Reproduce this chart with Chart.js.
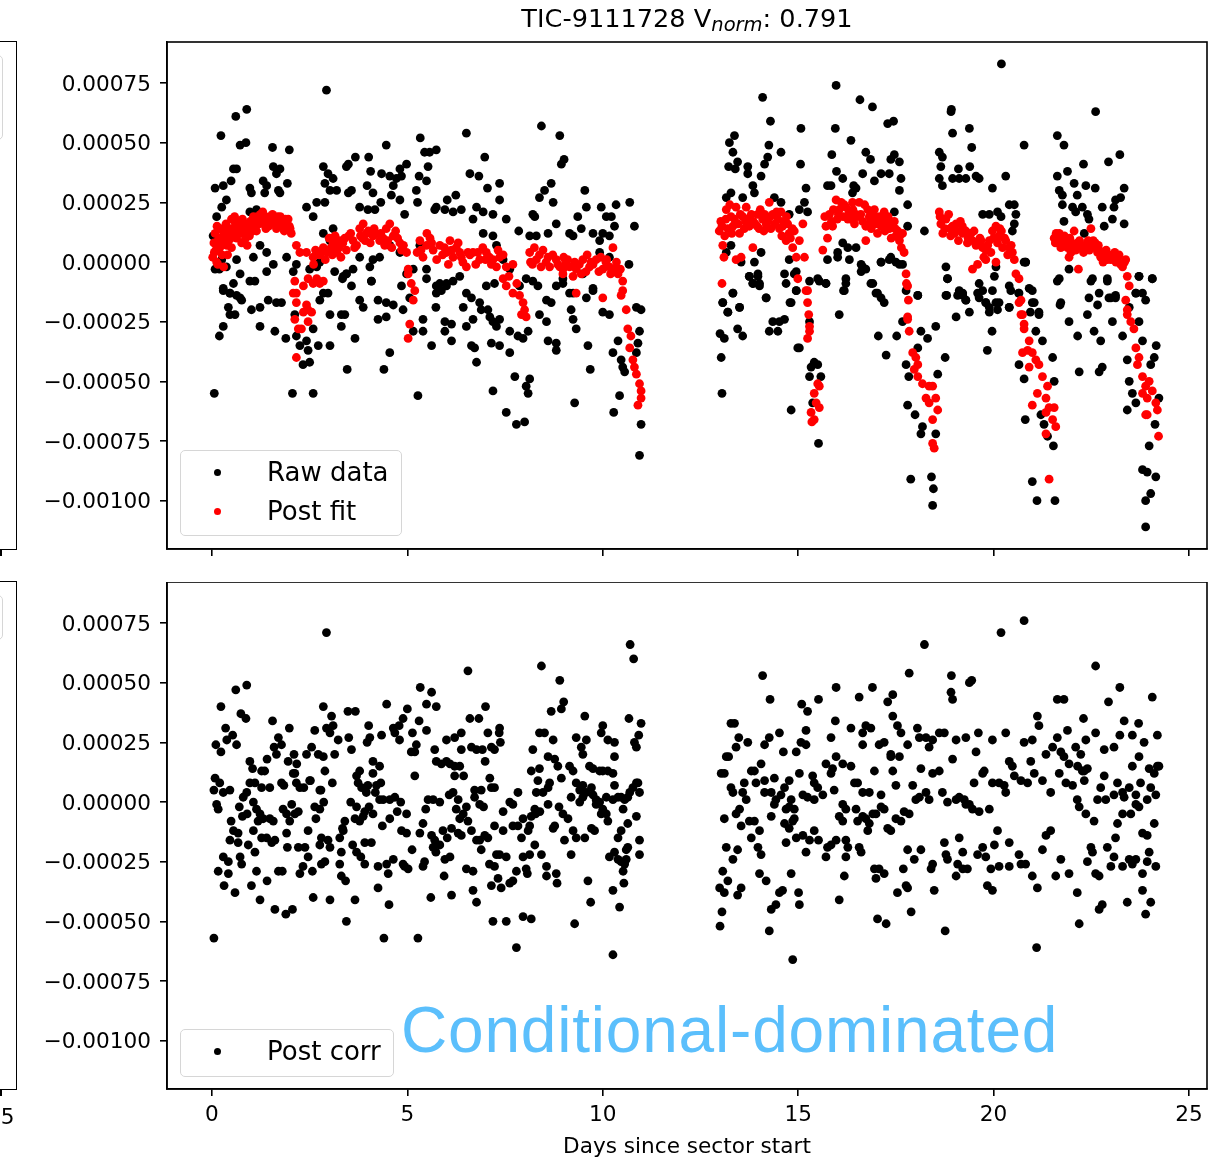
<!DOCTYPE html>
<html>
<head>
<meta charset="utf-8">
<script src="https://cdn.jsdelivr.net/npm/chart.js@4.4.1/dist/chart.umd.min.js"></script>
<style>
  body { margin: 0; background: #fff; }
  #fig { position: relative; width: 1229px; height: 1164px; overflow: hidden; font-family: "DejaVu Sans", sans-serif; color: #000; }
  #fig canvas { position: absolute; left: 0; }
  #topChart { top: 0; }
  #bottomChart { top: 582px; }
  .title { position: absolute; left: 167px; width: 1040px; top: 6px; text-align: center; font-size: 25.6px; line-height: 25px; white-space: nowrap; }
  .title .sub { font-style: italic; font-size: 19.5px; position: relative; top: 4px; }
  .legend { position: absolute; border: 1.5px solid #d6d6d6; border-radius: 5px; background: rgba(255,255,255,0.8); box-sizing: border-box; }
  .item { position: absolute; left: 267px; font-size: 26px; line-height: 26px; white-space: nowrap; }
  .dot { position: absolute; left: 213.5px; width: 7px; height: 7px; border-radius: 50%; }
  .note { position: absolute; left: 401px; top: 998px; font-family: "Liberation Sans", Arial, sans-serif; font-size: 64px; line-height: 64px; letter-spacing: 0.8px; color: #5bbffc; white-space: nowrap; }
  .frag { position: absolute; border: 1.6px solid #000; box-sizing: border-box; }
  .fragLegend { position: absolute; border: 1.5px solid #d6d6d6; border-radius: 5px; box-sizing: border-box; }
  .tick { position: absolute; left: 0; width: 1.6px; height: 7px; background: #000; }
  .fragLabel { position: absolute; left: -13px; top: 1106px; font-size: 21.6px; line-height: 21px; }
</style>
</head>
<body>
<div id="fig">
  <canvas id="topChart" width="1229" height="582"></canvas>
  <canvas id="bottomChart" width="1229" height="582"></canvas>

  <!-- cropped neighbour panels on the left edge -->
  <div class="frag" style="left:-20px; top:41px; width:37px; height:509px;"></div>
  <div class="fragLegend" style="left:-100px; top:55px; width:103px; height:85px;"></div>
  <div class="tick" style="top:549px;"></div>
  <div class="frag" style="left:-20px; top:581px; width:37px; height:509px;"></div>
  <div class="fragLegend" style="left:-100px; top:595px; width:103px; height:45px;"></div>
  <div class="tick" style="top:1089px;"></div>
  <div class="fragLabel">25</div>

  <div class="title">TIC-9111728 V<span class="sub">norm</span>: 0.791</div>

  <div class="legend" style="left:180px; top:450px; width:222px; height:86px;"></div>
  <div class="dot" style="top:468.5px; background:#000;"></div>
  <div class="item" style="top:459px;">Raw data</div>
  <div class="dot" style="top:507.5px; background:#ff0000;"></div>
  <div class="item" style="top:498px;">Post fit</div>

  <div class="legend" style="left:180px; top:1029px; width:214px; height:48px;"></div>
  <div class="dot" style="top:1047.5px; background:#000;"></div>
  <div class="item" style="top:1038px;">Post corr</div>

  <div class="note">Conditional-dominated</div>
</div>

<script>
// x: days since sector start, y: flux in units of 1e-5
const UNIT = 1e-5;
const xTicks = [0, 5, 10, 15, 20, 25];
const yTicks = [-100, -75, -50, -25, 0, 25, 50, 75];

const rawData = [
  [0.23,53],[0.61,61],[0.89,64],[0.72,49],[0.87,50],[0.55,39],[0.63,39],[0.08,31],[0.29,32],[0.49,34],[0.37,26],[0.25,23],[0.12,19],[0.03,11],[0.97,31],[1.01,29],[1.31,34],[1.4,32],[1.35,29],[1.55,48],[1.98,47],[1.57,40],[1.74,39],[1.65,37],[1.7,30],[1.74,29],[1.93,33],[0.97,21],[1.14,22],
  [2.93,72],[2.85,40],[2.97,37],[3.1,35],[2.89,33],[3.02,30],[3.19,30],[2.42,23],[2.68,25],[2.89,25],[2.59,19],[3.67,44],[3.49,41],[3.44,40],[4.01,44],[3.49,29],[3.57,30],[3.78,23],[3.99,22],[4.17,22],[4.06,38],[3.97,32],[4.12,29],[4.34,37],[4.46,49],[4.55,36],[4.72,35],[4.85,36],[4.81,39],[4.98,41],[4.64,32],[4.59,28],[4.81,26],[4.32,25],
  [5.33,52],[5.44,46],[5.57,46],[5.74,47],[5.53,40],[5.3,36],[5.49,34],[5.23,30],[5.26,25],[4.93,20],[5.74,23],[5.7,22],[6.02,26],[6.24,28],[5.96,22],[6.17,21],[6.38,22],[6.51,54],[6.6,37],[6.83,36],[6.98,44],[7.05,31],[6.68,18],[6.77,23],[6.94,21],[7.19,20],[7.36,33],[7.36,26],[7.53,18],[7.85,13],[8.21,20],[8.26,19],[8.43,57],[8.38,27],[8.51,30],[8.68,33],[8.73,25],[8.13,11],[8.3,11],[8.6,12],[8.81,16],[8.9,53],[8.94,41],[9.01,43],[9.54,30],[9.36,19],[9.58,23],[9.45,14],[9.24,11],[9.15,12],[9.96,23],[10.09,19],[10.22,19],[10.34,24],[9.75,12],[10.0,12],[10.17,11],[10.3,15],[9.92,9],[10.69,25],[10.81,15],[10.67,-1],
  [0.08,-3],[0.25,1],[0.37,-2],[0.63,1],[0.72,-5],[0.29,-11],[0.46,-13],[0.63,-14],[1.06,2],[1.23,7],[1.4,4],[1.57,-1],[1.91,2],[2.08,-4],[2.16,-1],[2.5,-3],[2.68,-2],[2.76,0],[3.1,14],[3.02,9],[2.85,12],[3.34,-7],[3.44,-5],[3.61,-3],[3.78,2],[4.04,-2],[4.12,1],[4.29,2],[4.55,7],[4.08,-8],[4.81,4],[4.98,-5],[5.15,-3],[5.32,7],[5.49,-3],[5.83,-9],[6.0,-10],[6.17,-8],[6.34,-6],[6.51,-13],[6.94,12],[7.19,11],[7.28,7],[7.45,1],[7.62,-3],[7.87,-10],[8.04,-7],[8.81,-10],[8.98,-7],[9.24,-13],[9.49,-5],[9.75,-12],[9.92,4],[10.17,2],
  [0.19,-3],[0.29,-12],[0.46,-13],[0.55,-9],[0.72,-15],[0.76,-16],[0.42,-19],[0.46,-22],[0.59,-22],[0.29,-27],[0.19,-31],[0.06,-55],[0.97,-8],[1.1,-8],[1.01,-20],[1.23,-19],[1.23,-27],[1.4,-4],[1.44,-16],[1.65,-17],[1.78,-17],[1.61,-29],[1.89,-32],[2.06,-55],[2.12,-22],[2.16,-31],[2.25,-35],[2.42,-33],[2.46,-37],[2.33,-43],[2.5,-42],[2.59,-55],[2.59,-28],[2.72,-35],[3.02,-35],[2.76,-16],[2.85,-13],[2.97,-13],[3.14,-4],[3.36,-6],[3.44,-5],[3.57,-10],[3.31,-22],[3.4,-22],[3.31,-27],[3.02,-22],[3.66,-32],[3.46,-45],[3.78,-16],[3.87,-19],[4.08,-8],[4.25,-16],[4.46,-17],[4.64,-18],[4.46,-23],[4.25,-24],[4.55,-38],[4.4,-45],[4.89,-20],[4.85,-10],[5.06,-15],[5.15,-29],[5.4,-24],[5.4,-29],[5.62,-35],[5.27,-56],[5.49,-7],[5.74,-10],[5.74,-13],[5.87,-12],[6.0,-9],[5.73,-19],[5.96,-25],[6.13,-26],[5.96,-29],[6.13,-33],[6.43,-19],[6.64,-15],[6.85,-17],[6.89,-20],[7.06,-20],[6.51,-27],[6.68,-24],[6.64,-35],[6.72,-36],[6.77,-42],[7.11,-23],[7.19,-25],[7.28,-27],[7.36,-24],[7.23,-9],[7.02,-10],[7.15,-34],[7.36,-35],[7.62,-29],[7.83,-31],[7.96,-32],[7.62,-38],[7.19,-54],[7.53,-63],[7.79,-68],[8.0,-67],[7.75,-48],[8.13,-49],[8.04,-52],[8.09,-55],[8.09,-29],[8.21,-8],[8.34,-10],[8.56,-16],[8.38,-22],[8.56,-25],[8.6,-33],[8.81,-34],[8.81,-37],[8.68,-17],[9.28,-59],[9.19,-20],[9.24,-24],[9.32,-28],[8.98,-9],[9.15,-13],[9.58,-15],[9.62,-35],[9.68,-45],[9.75,-11],[10.0,-21],[10.17,-22],[10.26,-38],[10.47,-41],[10.51,-44],[10.39,-33],[10.56,-46],[10.28,-63],[10.43,-56],[10.86,-19],[10.98,-20],[10.94,-29],[10.9,-34],[10.86,-38],[10.98,-68],[10.94,-81],
  [14.09,69],[13.37,53],[13.24,50],[13.33,46],[13.45,42],[13.22,40],[13.39,39],[13.71,40],[13.71,37],[13.84,32],[14.05,36],[14.29,59],[14.25,49],[14.22,44],[14.14,41],[14.56,46],[14.39,27],[14.56,25],[13.88,29],[13.58,27],[13.16,27],[13.28,29],[15.07,56],[15.06,41],[15.2,31],[15.16,25],[15.24,21],[14.77,20],[15.03,22],[15.97,74],[15.95,56],[16.35,51],[15.86,45],[15.98,38],[16.14,35],[15.75,32],[15.84,32],[16.58,68],[16.9,65],[16.73,46],[16.85,43],[16.65,37],[16.95,34],[17.12,37],[17.33,37],[17.37,43],[17.46,45],[17.59,42],[17.63,35],[16.42,32],[16.48,31],[16.39,29],[17.29,58],[17.44,59],[17.59,30],[17.8,24],[17.46,21],[18.23,13],[17.8,15],[18.92,64],[18.91,63],[18.95,54],[19.38,56],[19.44,48],[18.61,46],[18.69,44],[18.65,40],[19.1,39],[19.39,40],[18.61,35],[18.69,32],[18.95,35],[19.12,35],[19.29,35],[19.55,36],[19.63,35],[19.97,31],[20.31,36],[20.78,49],[20.2,83],[20.4,24],[20.53,24],[20.57,20],[20.53,16],[20.48,13],[20.78,0],[19.72,20],[19.89,20],[20.1,21],[20.19,19],[21.63,53],[21.8,49],[22.61,63],[21.63,36],[21.89,38],[21.68,30],[21.76,28],[22.06,33],[22.14,28],[22.36,32],[22.6,31],[22.3,41],[22.94,42],[23.23,45],[23.34,31],[23.25,27],[23.12,26],[23.08,23],[22.78,23],[21.76,24],[22.02,23],[22.1,21],[22.27,23],[22.4,20],[22.44,18],[22.32,12],[21.8,17],[22.83,15],[23.04,18],[23.34,16],[24.06,-7],[23.72,-6],[23.64,-13],[23.89,-16],[23.47,-19],
  [13.07,-17],[13.2,-21],[13.5,-19],[13.33,-13],[13.16,4],[13.28,7],[13.54,0],[13.88,0],[13.97,-5],[13.75,-6],[13.84,-9],[14.01,-10],[14.05,4],[14.18,-15],[14.65,-5],[14.69,-9],[14.82,-17],[14.9,-5],[14.95,-12],[14.77,1],[15.29,-8],[15.5,-7],[15.71,-9],[15.75,1],[16.01,4],[16.14,8],[16.27,6],[16.31,1],[16.22,-7],[16.18,-12],[16.48,6],[16.65,-2],[16.73,-3],[16.91,-9],[16.99,-13],[17.12,-15],[17.12,0],[17.33,1],[17.5,0],[17.67,-1],[18.06,-14],[18.78,-2],[18.82,-7],[18.8,-14],[19.12,-12],[19.21,-14],[19.29,-16],[19.59,-13],[19.63,-9],[19.72,-12],[19.8,-17],[19.89,-19],[19.97,-12],[20.02,-6],[20.06,-2],[20.14,-17],[20.4,-19],[20.44,-12],[20.65,-13],[20.82,0],[20.99,-17],[21.16,-21],[21.68,-7],[21.72,-17],[21.93,-3],[22.44,-15],[22.53,-7],[22.7,-13],[22.91,-7],[22.95,-15],[23.12,-14],
  [13.03,-40],[13.05,-55],[13.07,-17],[13.2,-21],[13.33,-13],[13.5,-19],[13.0,-30],[13.11,-32],[13.45,-28],[13.58,-31],[13.75,-6],[13.97,-6],[13.84,-9],[14.01,-9],[14.18,-15],[14.26,-29],[14.35,-25],[14.52,-25],[14.65,-24],[14.48,-29],[14.82,-62],[14.79,-17],[14.95,-4],[14.95,-12],[15.03,-36],[14.99,-36],[15.29,-25],[15.33,-44],[15.41,-42],[15.5,-43],[15.58,-48],[15.29,-48],[15.37,-59],[15.52,-76],[15.54,-8],[15.71,-9],[16.01,2],[16.22,-9],[16.16,-12],[16.05,-22],[16.61,-1],[16.61,-4],[16.86,-9],[17.03,-13],[17.2,-17],[17.12,0],[17.37,2],[17.59,-1],[17.76,-12],[18.06,-14],[17.05,-31],[17.25,-39],[17.52,-31],[17.67,-25],[17.88,-91],[18.41,-90],[18.46,-95],[18.44,-102],[17.76,-43],[17.83,-48],[17.8,-60],[17.99,-64],[18.18,-69],[18.14,-72],[18.52,-72],[18.57,-47],[18.76,-40],[18.52,-27],[18.31,-32],[18.14,-29],[18.06,-36],[18.78,-14],[18.82,-7],[19.04,-23],[19.08,-14],[19.21,-13],[19.29,-16],[19.38,-21],[19.84,-37],[19.96,-29],[19.63,-15],[19.8,-17],[19.89,-21],[20.06,-17],[20.1,-20],[20.4,-10],[20.4,-19],[20.64,-13],[20.82,0],[20.91,-11],[20.99,-12],[21.04,-17],[20.81,-66],[20.65,-43],[20.78,-49],[20.99,-92],[21.11,-100],[21.57,-100],[21.53,-77],[21.38,-73],[21.29,-68],[21.21,-64],[21.51,-40],[21.55,-50],[21.25,-33],[21.08,-29],[21.16,-22],[20.94,-21],[21.63,-8],[21.7,-18],[21.93,-25],[22.15,-31],[22.19,-46],[22.4,-22],[22.49,-8],[22.57,-29],[22.66,-18],[22.7,-46],[22.78,-44],[22.74,-33],[22.91,-8],[23.0,-15],[23.12,-15],[23.04,-25],[23.3,-31],[23.42,-41],[23.47,-50],[23.42,-62],[23.55,-55],[23.64,-59],[23.72,-25],[23.72,-6],[23.81,-13],[23.64,-13],[23.81,-33],[24.11,-40],[24.16,-35],[24.06,-7],[24.02,-43],[24.23,-57],[24.13,-68],[23.98,-77],[23.81,-87],[23.93,-88],[24.15,-90],[24.02,-97],[23.89,-100],[23.89,-111]
];

const fitData = [
  [0.02,2],[0.05,8],[0.08,12],[0.1,5],[0.13,15],[0.15,-1],[0.18,10],[0.2,6],[0.23,14],[0.26,3],[0.3,11],[0.33,8],[0.36,16],[0.4,12],[0.43,9],[0.46,14],[0.5,18],[0.53,11],[0.56,13],[0.6,16],[0.63,10],[0.66,17],[0.7,14],[0.73,12],[0.76,8],[0.8,15],[0.84,12],[0.88,16],[0.92,14],[0.96,11],[1.0,15],[1.04,13],[1.08,17],[1.12,15],[1.16,19],[1.2,16],[1.24,20],[1.28,18],[1.32,16],[1.36,19],[1.4,17],[1.45,15],[1.5,18],[1.55,20],[1.6,16],[1.65,14],[1.7,17],[1.75,19],[1.8,15],[1.85,13],[1.9,16],[1.95,18],[2.0,14],[2.03,12],[0.5,6],[0.3,-2],[0.12,0],[0.9,7],[0.4,3],
  [0.06,4],[0.16,9],[0.28,13],[0.38,7],[0.48,10],[0.58,19],[0.68,12],[0.78,18],[0.86,10],[0.98,17],[1.06,19],[1.14,13],[1.22,17],[1.3,21],[1.38,14],[1.47,19],[1.58,17],[1.68,19],[1.78,16],[1.88,18],[1.98,15],
  [2.12,-8],[2.08,-13],[2.16,-17],[2.34,-10],[2.46,-7],[2.59,-9],[2.72,-8],[2.85,-8],[2.34,-21],[2.46,-20],[2.55,-21],[2.12,-24],[2.21,-28],[2.29,-28],[2.46,-25],[2.42,-18],[2.16,-40],[2.16,7],[2.25,4],[2.42,4],[2.68,-7],[2.76,-9],[2.16,-13],
  [2.59,2],[2.85,6],[3.1,8],[3.27,9],[3.44,5],[3.61,9],[3.78,14],[3.87,16],[3.95,12],[4.12,11],[4.29,9],[4.46,14],[4.55,16],[4.64,11],[4.81,8],[4.98,4],[5.02,-3],[2.65,5],[2.75,3],[2.95,4],[3.05,6],[3.2,4],[3.35,8],[3.5,11],[3.7,7],[3.85,10],[4.0,13],[4.05,8],[4.2,12],[4.38,10],[4.5,9],[4.7,13],[4.9,7],[3.15,11],[3.55,12],[4.6,6],[2.9,1],[3.0,10],[3.3,2],
  [2.6,-1],[2.8,4],[3.08,3],[3.25,6],[3.4,10],[3.65,6],[3.8,11],[3.92,9],[4.15,14],[4.32,12],[4.42,7],[4.75,10],[4.85,5],
  [5.02,-5],[5.1,-9],[5.15,-16],[5.06,-26],[5.02,-32],[5.19,-12],
  [5.32,9],[5.49,7],[5.66,5],[5.83,7],[6.0,4],[6.09,9],[6.17,2],[6.34,4],[6.51,-2],[6.68,4],[6.85,1],[7.02,4],[7.19,1],[7.36,2],[7.53,-2],[7.7,-1],[5.25,4],[5.4,2],[5.58,10],[5.75,1],[5.9,3],[6.05,-1],[6.25,6],[6.42,0],[6.6,3],[6.75,-1],[6.93,6],[7.1,2],[7.28,-2],[7.45,3],[5.5,12],[6.3,8],
  [5.35,5],[5.62,8],[5.95,6],[6.13,5],[6.38,2],[6.55,4],[6.8,4],[7.0,1],[7.15,-1],[7.32,5],
  [7.45,-7],[7.53,-10],[7.7,-13],[7.87,-14],[7.96,-17],[8.0,-20],[8.04,-23],[7.92,-22],[7.6,-6],[7.8,-9],
  [8.13,4],[8.3,1],[8.47,5],[8.64,-2],[8.81,1],[8.98,-5],[9.15,-2],[9.32,-3],[9.49,1],[9.66,-2],[9.83,1],[10.0,-3],[10.17,-2],[10.26,6],[10.39,-5],[10.51,-8],[9.32,-13],[8.98,-3],[9.24,-6],[8.2,-1],[8.38,3],[8.55,0],[8.72,3],[8.9,-2],[9.05,0],[9.4,-1],[9.57,-4],[9.75,-1],[9.9,-4],[10.08,0],[10.3,-3],[8.25,6],[9.0,2],[9.6,3],[10.1,1],
  [8.15,0],[8.42,-2],[8.6,2],[8.85,-1],[9.1,1],[9.28,0],[9.45,-5],[9.7,0],[9.95,2],[10.2,-5],[10.35,0],[10.45,-3],
  [10.0,-15],[10.51,-12],[10.47,-14],[10.64,-28],[10.69,-36],[10.77,-41],[10.81,-44],[10.86,-47],[10.94,-51],[10.98,-54],[10.9,-60],[10.98,-57],[10.6,-20],[10.72,-31],
  [12.98,13],[13.07,7],[13.16,22],[13.28,19],[13.33,15],[13.41,23],[13.5,12],[13.58,19],[13.67,23],[13.75,15],[13.84,6],[13.96,20],[14.09,18],[14.18,16],[14.26,25],[14.35,20],[14.48,18],[14.6,15],[14.69,9],[14.77,12],[14.86,6],[14.95,2],[15.03,9],[15.12,16],[15.16,2],[13.05,-9],[13.54,2],[13.41,1],[14.99,-7],[15.2,-12],[15.24,-17],[13.02,17],[13.12,11],[13.2,14],[13.25,24],[13.37,18],[13.46,16],[13.62,14],[13.7,18],[13.8,20],[13.9,16],[14.0,14],[14.03,22],[14.14,20],[14.22,17],[14.3,14],[14.4,16],[14.52,14],[14.56,21],[14.64,17],[14.73,16],[14.8,10],[14.9,13],[13.1,2],
  [13.05,15],[13.15,18],[13.3,12],[13.52,20],[13.65,17],[13.85,17],[13.95,15],[14.12,13],[14.28,19],[14.45,21],[14.58,11],[14.7,19],[14.85,14],
  [15.24,-12],[15.29,-27],[15.29,-29],[15.24,-32],[15.5,-51],[15.54,-52],[15.41,-55],[15.46,-59],[15.54,-61],[15.33,-63],[15.41,-66],[15.35,-67],[15.27,-22],
  [15.63,5],[15.71,15],[15.8,20],[15.97,26],[16.05,22],[16.22,23],[16.39,25],[16.48,20],[16.56,25],[16.73,15],[16.82,19],[16.91,20],[16.99,16],[17.08,19],[17.16,18],[17.25,16],[17.33,14],[17.42,15],[17.5,11],[17.59,9],[17.67,12],[16.73,9],[16.35,18],[15.88,15],[15.75,10],[15.9,22],[16.0,18],[16.1,25],[16.15,19],[16.3,21],[16.44,16],[16.6,20],[16.65,17],[16.78,22],[16.87,14],[16.95,22],[17.03,12],[17.2,21],[17.3,19],[17.38,10],[17.46,17],[17.55,13],[17.64,6],
  [15.68,19],[15.85,17],[16.03,20],[16.18,24],[16.27,18],[16.4,22],[16.52,19],[16.7,24],[16.85,17],[17.0,18],[17.12,15],[17.22,13],[17.36,17],[17.48,14],[17.6,11],
  [17.71,4],[17.76,-5],[17.8,-10],[17.77,-9],[17.8,-23],[17.8,-24],[17.84,-29],[17.93,-38],[18.01,-40],[18.06,-43],[17.97,-45],[18.06,-48],[18.18,-51],[18.35,-52],[18.44,-52],[18.52,-57],[18.27,-57],[18.35,-59],[18.57,-62],[18.44,-66],[18.44,-76],[18.48,-78],[17.82,-16],
  [18.61,21],[18.65,16],[18.78,18],[18.95,15],[19.04,16],[19.21,12],[19.29,13],[19.38,11],[19.46,9],[19.59,8],[19.72,6],[19.8,5],[19.89,9],[19.97,13],[20.06,15],[20.14,11],[20.23,6],[20.31,9],[20.4,6],[20.48,4],[20.53,1],[19.8,1],[19.46,-3],[20.06,0],[19.59,-1],[18.7,12],[18.85,20],[18.9,11],[19.0,12],[19.1,9],[19.15,17],[19.33,8],[19.5,13],[19.65,10],[19.75,2],[19.93,4],[20.1,8],[20.2,13],[20.36,3],
  [18.63,19],[18.75,14],[18.88,14],[19.05,13],[19.2,15],[19.35,10],[19.42,12],[19.55,7],[19.68,9],[19.85,7],[20.0,10],[20.16,14],[20.28,10],[20.45,7],
  [20.57,-5],[20.65,-7],[20.7,-16],[20.74,-22],[20.65,-17],[20.7,-22],[20.78,-26],[20.78,-28],[20.91,-33],[20.87,-37],[20.74,-38],[20.99,-38],[21.08,-41],[20.91,-44],[21.16,-43],[21.25,-48],[21.38,-52],[21.12,-55],[21.34,-57],[20.99,-60],[21.42,-61],[21.55,-61],[21.34,-63],[21.51,-66],[21.59,-69],[21.34,-72],[21.42,-91],
  [21.55,10],[21.63,9],[21.72,6],[21.81,11],[21.89,6],[21.98,4],[22.06,13],[22.15,8],[22.23,6],[22.36,7],[22.49,14],[22.53,6],[22.66,4],[22.74,2],[22.83,4],[22.91,1],[23.04,2],[23.13,0],[23.21,3],[23.3,-2],[23.38,1],[22.17,-3],[21.93,2],[21.6,12],[21.7,10],[21.77,8],[21.85,9],[22.0,8],[22.1,5],[22.3,4],[22.42,9],[22.6,8],[22.7,5],[22.8,0],[22.95,3],[23.1,4],[23.25,-1],
  [21.58,8],[21.68,12],[21.8,7],[21.95,10],[22.05,6],[22.2,9],[22.28,7],[22.45,5],[22.55,9],[22.68,7],[22.78,3],[22.88,5],[23.0,1],[23.18,2],[23.35,0],
  [23.42,-6],[23.47,-10],[23.38,-16],[23.42,-20],[23.42,-22],[23.51,-25],[23.59,-28],[23.64,-36],[23.72,-40],[23.68,-43],[23.81,-48],[23.98,-50],[23.89,-52],[24.06,-54],[23.81,-55],[23.93,-57],[24.15,-59],[24.19,-62],[23.93,-64],[23.89,-64],[24.22,-73]
];

const corrData = [
  [2.93,71],[6.55,55],[8.43,57],[8.9,51],[10.7,66],[10.79,60],[0.61,47],[0.89,49],[0.23,40],[0.74,37],[0.87,35],[1.55,34],[1.98,31],[0.35,31],[0.53,28],[0.38,26],[0.63,24],[0.1,24],[0.23,21],[2.85,40],[3.06,36],[2.93,31],[3.1,32],[3.02,29],[3.23,26],[3.48,38],[3.67,38],[3.5,27],[3.57,22],[4.01,32],[4.04,27],[3.97,25],[4.34,28],[4.47,41],[4.68,29],[4.79,32],[4.89,35],[5.0,39],[4.8,26],[4.64,31],[5.33,48],[5.62,46],[5.49,41],[5.74,40],[5.3,34],[5.49,30],[5.13,29],[5.23,24],[5.1,21],[5.19,21],[5.19,11],[2.63,30],[2.55,23],[2.72,20],[2.85,19],[1.7,27],[1.59,23],[1.78,24],[1.65,20],[1.95,17],[2.17,16],[2.1,20],[2.08,12],[0.97,17],[1.04,14],[1.41,18],[1.35,13],[1.27,13],[3.14,20],[2.42,20],[2.52,9],[2.89,13],[3.08,8],[2.79,5],
  [0.08,10],[0.2,8],[0.05,5],[0.29,4],[0.46,5],[0.12,-1],[0.16,-3],[0.97,8],[1.1,8],[1.27,6],[1.48,6],[0.89,4],[0.8,2],[0.7,-2],[0.78,-6],[0.9,-5],[1.06,0],[1.14,-3],[1.23,-5],[1.31,-7],[1.48,-7],[1.57,-8],[1.18,-8],[0.49,-8],[0.55,-12],[0.67,-13],[0.46,-16],[0.67,-17],[0.93,-18],[1.06,-12],[1.1,-21],[0.29,-23],[0.42,-25],[0.72,-23],[0.76,-26],[0.16,-29],[0.42,-30],[0.31,-35],[0.59,-38],[0.05,-57],[1.01,-35],[1.14,-29],[1.23,-41],[1.41,-33],[1.61,-45],[1.7,-29],[1.8,-29],[1.89,-47],[2.06,-45],[1.27,-15],[1.4,-15],[1.53,-17],[1.61,-16],[1.82,-3],[1.91,-5],[2.04,-1],[2.12,-5],[2.21,-4],[1.99,-8],[1.91,-13],[1.93,-19],[1.78,8],[1.84,7],[2.12,12],[2.16,8],[2.25,6],[2.35,6],[2.5,9],[2.76,5],
  [2.21,-19],[2.38,-19],[2.46,-23],[2.33,-27],[2.25,-30],[2.57,-29],[2.46,-12],[2.63,-2],[2.66,-7],[2.76,-3],[2.86,0],[2.8,-15],[2.97,-16],[3.02,-19],[2.76,-18],[2.59,-40],[3.02,-41],[2.8,-26],[2.89,-25],[3.27,-15],[3.36,-12],[3.4,-8],[3.34,-11],[3.31,-21],[3.27,-26],[3.31,-31],[3.42,-33],[3.44,-50],[3.66,-41],[3.55,0],[3.7,-2],[3.66,-7],[3.87,-6],[3.78,-8],[3.6,-18],[3.7,-21],[3.81,-23],[3.91,-26],[3.91,-17],[4.08,-17],[3.74,8],[3.78,13],[3.83,6],[3.7,11],[3.95,4],[3.99,7],[4.12,12],[4.21,7],[4.02,-2],[4.12,-5],[3.91,-4],[4.12,17],[4.29,15],[4.32,8],[4.18,4],[4.29,1],[4.38,1],[4.55,1],[4.68,2],[4.83,0],
  [4.25,-27],[4.25,-36],[4.47,-26],[4.51,-30],[4.53,-43],[4.4,-57],[4.64,-24],[4.93,-27],[5.02,-28],[4.89,-26],[4.36,-10],[4.55,-7],[4.74,-4],[4.98,-5],[4.85,-12],[4.98,-13],[5.12,-20],[5.27,-57],[5.4,-27],[5.44,-25],[5.6,-40],[5.32,-13],[5.4,-9],[5.47,-3],[5.53,1],[5.66,1],[5.83,0],[5.62,-14],[5.7,-16],[5.66,-19],[5.83,-18],[5.73,-21],[5.96,-24],[6.09,-23],[5.91,-12],[6.02,-15],[6.13,-11],[6.3,-13],[6.38,-14],[5.94,-31],[6.13,-39],[6.07,3],[6.17,4],[6.25,-3],[6.34,-7],[6.43,-5],[6.51,-2],[6.3,1],
  [5.7,22],[5.74,17],[5.87,16],[6.0,17],[6.09,16],[6.21,15],[6.34,15],[6.21,11],[6.44,11],[6.0,26],[6.21,27],[6.38,29],[6.38,22],[6.6,35],[6.83,35],[6.64,23],[6.77,22],[6.92,22],[7.0,40],[7.06,29],[6.99,17],[7.36,31],[7.35,29],[7.38,25],[7.15,23],[7.23,22],[6.72,5],[6.89,5],[6.72,2],[6.85,-1],[6.95,-2],[7.11,10],[7.15,6],[7.23,6],[6.55,-8],[6.64,-12],[6.77,-16],[6.85,-16],[6.98,-14],[7.06,-15],[7.28,-22],[7.36,-22],[7.53,-23],[7.23,-10],[7.45,-12],[7.7,-10],[7.83,-10],[7.45,-4],[7.62,0],[7.83,4],[7.7,-1],[6.89,-20],[7.1,-26],[7.23,-27],[6.51,-28],[6.68,-29],[6.68,-37],[6.77,-42],[7.15,-35],[7.32,-32],[7.4,-36],[7.62,-34],[7.7,-33],[7.19,-50],[7.53,-50],[7.79,-61],
  [7.79,-29],[7.96,-23],[8.04,-28],[8.07,-30],[8.13,-22],[7.96,-48],[8.17,-49],[7.92,-15],[8.09,-12],[8.13,-10],[7.96,-7],[8.17,-6],[8.28,-5],[8.26,-18],[8.43,-22],[8.56,-27],[8.56,-31],[8.81,-30],[8.83,-34],[9.28,-51],[8.26,-3],[8.39,-4],[8.6,-1],[8.73,-11],[8.77,-10],[8.34,9],[8.3,4],[8.47,4],[8.6,6],[8.64,8],[8.21,22],[8.17,13],[8.38,14],[8.6,19],[8.77,18],[8.85,15],[8.38,29],[8.51,29],[8.73,26],[8.68,38],[8.94,39],[9.0,42],[8.88,-2],[8.98,-5],[9.11,-7],[9.02,-16],[9.24,-12],[9.32,-15],[9.19,-22],[8.94,10],[9.15,15],[9.24,13],[9.19,2],[9.41,0],[9.32,8],[9.49,7],[9.41,5],[9.58,4],[9.49,2],[9.32,27],[9.45,23],[9.49,20],[9.58,26],[9.54,36],[9.62,-33],[9.69,-42],[9.54,-15],[9.71,-11],[9.79,-12],
  [9.66,15],[9.75,14],[9.92,13],[10.0,13],[10.13,13],[10.26,12],[9.71,6],[9.75,3],[9.83,1],[9.92,0],[10.0,-3],[10.09,-5],[10.13,-8],[9.96,-5],[9.83,-1],[9.96,29],[10.0,32],[10.13,26],[10.3,25],[10.3,19],[10.09,2],[10.26,1],[10.39,2],[10.56,1],[10.64,2],[10.26,-37],[10.43,-44],[10.54,-34],[10.52,-29],[10.56,-26],[10.47,-25],[10.6,-24],[10.64,-19],[10.6,-20],[10.39,-24],[10.47,-12],[10.26,-64],[10.17,-23],[10.3,-21],[10.39,-15],[10.64,-9],[10.86,-6],[10.94,-16],[10.94,-22],[10.52,-3],[10.3,7],[10.47,2],[10.69,4],[10.77,6],[10.86,8],[10.94,4],[10.9,8],[10.67,35],[10.81,25],[10.86,23],[10.92,28],[10.98,33],
  [13.22,19],[13.03,12],[13.11,12],[13.28,6],[13.33,4],[13.62,8],[13.58,4],[13.67,1],[13.8,13],[13.88,13],[13.92,8],[14.05,16],[14.14,9],[14.14,4],[14.31,4],[14.39,10],[14.43,1],[14.56,3],[14.65,6],[14.77,9],[14.82,1],[14.77,-2],[14.9,-3],[14.86,-8],[15.03,12],[15.12,3],[15.24,2],[15.41,1],[13.11,-7],[13.41,-5],[13.5,-3],[13.54,-10],[13.75,-8],[13.88,-8],[14.01,-12],[13.8,-15],[13.97,-19],[14.05,-22],[14.31,-6],[14.39,-1],[14.69,-3],[14.65,-9],[14.77,-11],[14.9,-7],[14.95,-15],[15.12,-14],[15.29,-16],[15.41,-12],[15.52,-16],[15.37,11],[15.41,8],[15.5,6],[15.63,3],[15.71,16],[15.84,12],[15.88,14],[15.92,5],[16.14,16],[16.35,15],[16.44,8],[16.52,8],[16.65,4],[16.82,4],[16.95,13],[17.12,3],[17.37,20],[17.42,13],[17.5,7],[15.97,19],
  [16.05,-6],[16.14,-8],[16.14,-1],[16.22,-3],[16.48,-3],[16.52,-8],[16.65,-6],[16.73,-7],[16.78,-12],[16.82,-9],[16.91,-5],[16.99,-5],[17.12,-2],[17.2,-3],[17.29,-11],[17.37,-12],[17.5,-7],[17.63,-8],[17.71,-4],[17.84,-5],[17.93,7],[18.01,1],[18.1,2],[18.14,14],[18.27,4],[18.35,1],[18.44,12],[18.61,13],[18.69,4],[18.82,0],[18.95,18],[19.04,1],[19.12,2],[19.25,1],[19.29,-1],[19.38,-1],[19.46,-3],[19.63,-4],[19.5,8],[19.76,13],[19.72,12],[19.89,-3],[19.97,8],[20.14,8],[20.27,7],[20.31,4],[20.4,17],[20.48,15],[20.53,11],[20.7,9],[20.87,8],[20.95,17],[21.04,12],[21.25,9],[21.34,20],[21.46,4],[21.68,12],[21.85,8],[21.93,16],[22.02,7],[22.14,1],[22.19,-2],[22.32,13],[22.36,-5],[22.57,-8],[22.66,1],[22.74,6],[22.83,11],[22.87,1],[23.08,3],[23.17,8],[23.3,4],[23.34,2],[23.47,6],[23.55,15],[23.64,3],[23.64,-1],[23.72,-2],[23.76,8],[23.93,1],[23.98,14],[24.02,6],[24.11,12],[24.15,3],[24.19,15],
  [20.78,76],[20.19,71],[18.23,66],[14.09,53],[17.84,54],[18.92,53],[18.91,46],[18.95,43],[19.38,50],[19.44,51],[14.28,43],[22.61,57],[23.23,48],[24.06,44],[21.63,43],[21.8,43],[22.94,42],[15.09,41],[15.24,38],[15.52,43],[15.97,48],[16.56,44],[16.9,48],[17.29,42],[17.42,45],[13.28,33],[13.37,33],[21.12,36],[21.16,32],[22.3,35],[23.34,34],[23.71,33],[15.95,34],[16.35,31],[16.73,32],[16.86,31],[16.65,29],[16.65,24],[17.42,36],[17.54,32],[17.63,29],[17.8,24],[18.05,31],[18.1,27],[18.27,27],[18.35,23],[18.44,26],[18.61,29],[18.74,29],[13.48,27],[13.41,23],[13.71,25],[13.16,19],[14.14,24],[14.26,27],[14.52,29],[15.07,25],[15.2,24],[14.95,21],[15.2,30],[14.62,21],[15.84,27],[17.07,24],[17.2,25],[17.37,19],[17.59,19],[19.04,26],[19.29,27],[19.55,21],[19.61,29],[19.97,26],[20.31,29],[20.78,25],[20.99,26],[21.63,27],[21.89,30],[21.51,23],[21.72,21],[21.8,19],[22.1,23],[22.23,20],[22.36,26],[22.4,14],[22.27,13],[22.15,15],[22.32,9],[22.61,29],[22.83,22],[23.08,23],[23.23,28],[23.55,28],[23.72,19],[23.85,25],[24.19,28],[24.23,15],
  [13.16,-19],[13.33,-24],[13.07,-29],[13.2,-33],[12.99,-36],[13.11,-38],[13.05,-46],[13.0,-52],[13.45,-20],[13.54,-36],[13.45,-39],[14.01,-30],[14.18,-33],[14.52,-38],[14.6,-37],[14.43,-43],[14.31,-45],[14.26,-54],[14.82,-30],[15.01,-38],[15.03,-43],[15.2,-21],[14.69,-17],[15.71,-23],[15.75,-19],[15.84,-18],[15.97,-16],[16.05,-41],[16.22,-16],[16.27,-19],[16.22,-23],[16.18,-31],[16.56,-19],[16.61,-21],[16.95,-28],[17.07,-28],[16.99,-32],[17.2,-30],[17.03,-49],[17.25,-51],[17.54,-38],[17.76,-35],[17.8,-36],[17.89,-46],[17.69,-28],[17.8,-20],[17.97,-24],[18.14,-20],[18.4,-28],[18.44,-26],[18.48,-37],[18.78,-22],[18.74,-17],[18.82,-24],[18.76,-54],[19.04,-31],[19.08,-26],[19.21,-28],[19.33,-28],[19.12,-15],[19.21,-21],[19.59,-22],[19.72,-19],[19.8,-23],[19.84,-35],[19.97,-37],[19.93,-28],[20.02,-18],[20.1,-12],[20.14,-27],[20.4,-17],[20.4,-27],[20.65,-22],[20.7,-26],[20.82,-26],[20.99,-31],[21.12,-36],[21.1,-61],[21.25,-20],[21.34,-14],[21.46,-12],[21.59,-31],[21.72,-24],[21.93,-30],[22.14,-38],[22.19,-51],[22.4,-25],[22.49,-19],[22.53,-21],[22.61,-30],[22.7,-45],[22.78,-43],[22.7,-31],[22.91,-19],[23.0,-27],[23.08,-23],[23.12,-15],[23.3,-27],[23.42,-42],[23.47,-24],[23.55,-26],[23.64,-24],[23.81,-30],[23.81,-37],[23.89,-47],[24.02,-42],[23.93,-25],[23.98,-21],[23.93,-14],[23.81,-13],[24.15,-27],[24.11,-9],[23.3,-5],[23.17,-9],[23.51,-5],[14.86,-66]
];

const X_MIN = -1.15, X_MAX = 25.46;
const Y_MIN = -120.25, Y_MAX = 92.2;

Chart.defaults.font.family = '"DejaVu Sans", sans-serif';
Chart.defaults.color = '#000';

function toPoints(list) {
  return list.map(([x, y]) => ({ x: x, y: y * UNIT }));
}

function fmtTick(v) {
  const s = (Math.abs(v) < 1e-12 ? 0 : v).toFixed(5);
  return s.replace('-', '\u2212');
}

// matplotlib style box round the plot area
const framePlugin = {
  id: 'frame',
  afterDraw(chart) {
    const { ctx, chartArea: a } = chart;
    ctx.save();
    ctx.strokeStyle = '#000';
    ctx.lineWidth = 1.6;
    ctx.strokeRect(a.left, a.top, a.right - a.left, a.bottom - a.top);
    ctx.restore();
  }
};

function dataset(label, list, color, order) {
  return {
    label: label,
    data: toPoints(list),
    backgroundColor: color,
    borderColor: color,
    borderWidth: 0,
    pointRadius: 4.4,
    pointHoverRadius: 4.4,
    order: order
  };
}

function panelOptions(bottomPanel, axisHeight, padTop) {
  const tickGrid = { display: true, drawOnChartArea: false, drawTicks: true, tickLength: 7, color: '#000', lineWidth: 1.6 };
  return {
    responsive: false,
    animation: false,
    devicePixelRatio: 1,
    events: [],
    layout: { autoPadding: false, padding: { top: padTop, right: 22, left: 0, bottom: 0 } },
    plugins: { legend: { display: false }, tooltip: { enabled: false } },
    scales: {
      x: {
        type: 'linear',
        min: X_MIN,
        max: X_MAX,
        grid: tickGrid,
        border: { display: true, color: '#000', width: 1.6 },
        afterBuildTicks: (s) => { s.ticks = xTicks.map(v => ({ value: v })); },
        afterFit: (s) => { s.height = axisHeight; s.paddingLeft = 0; s.paddingRight = 0; },
        ticks: {
          display: bottomPanel,
          font: { size: 21.6 },
          color: '#000',
          padding: 6,
          maxRotation: 0,
          callback: (v) => String(v)
        },
        title: {
          display: bottomPanel,
          text: 'Days since sector start',
          font: { size: 21.6 },
          color: '#000',
          padding: { top: 0, bottom: 4 }
        }
      },
      y: {
        type: 'linear',
        min: Y_MIN * UNIT,
        max: Y_MAX * UNIT,
        grid: tickGrid,
        border: { display: true, color: '#000', width: 1.6 },
        afterBuildTicks: (s) => { s.ticks = yTicks.map(v => ({ value: v * UNIT })); },
        afterFit: (s) => { s.width = 167; s.paddingTop = 0; s.paddingBottom = 0; },
        ticks: {
          font: { size: 21.6 },
          color: '#000',
          padding: 9,
          labelOffset: 2,
          callback: (v) => fmtTick(v)
        }
      }
    }
  };
}

new Chart(document.getElementById('topChart'), {
  type: 'scatter',
  data: {
    datasets: [
      dataset('Raw data', rawData, '#000000', 2),
      dataset('Post fit', fitData, '#ff0000', 1)
    ]
  },
  options: panelOptions(false, 33, 42),
  plugins: [framePlugin]
});

new Chart(document.getElementById('bottomChart'), {
  type: 'scatter',
  data: {
    datasets: [
      dataset('Post corr', corrData, '#000000', 1)
    ]
  },
  options: panelOptions(true, 75, 0),
  plugins: [framePlugin]
});
</script>
</body>
</html>
